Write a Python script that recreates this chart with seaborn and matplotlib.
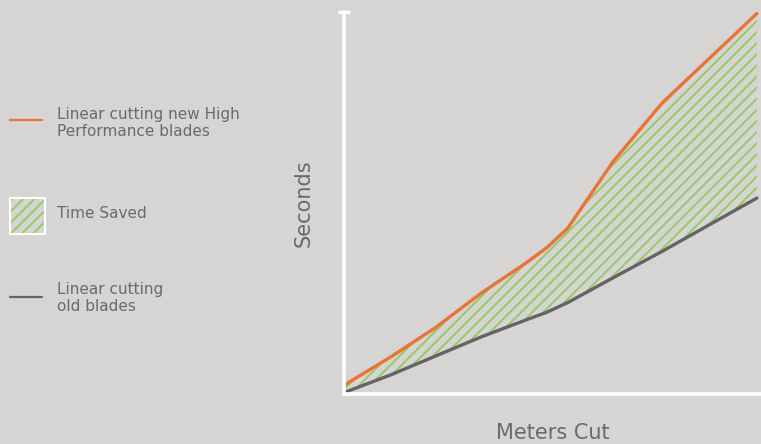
import pandas as pd
import seaborn as sns
import matplotlib.pyplot as plt
from matplotlib.lines import Line2D
from matplotlib.patches import Rectangle

# values (axis units 0-100, no ticks in the original)
meters = [0, 11, 22, 33, 44, 49, 54, 65, 77, 100]
new_blades = [2.5, 9.7, 17.5, 26.5, 34.5, 38.5, 43.5, 61.0, 76.5, 100.0]
old_blades = [0.5, 5.0, 10.0, 15.0, 19.5, 21.5, 24.0, 30.5, 37.5, 51.5]

label_new = "Linear cutting new High\nPerformance blades"
label_saved = "Time Saved"
label_old = "Linear cutting\nold blades"

df = pd.DataFrame({"Meters": meters, "New": new_blades, "Old": old_blades})

bg = "#d6d5d3"
orange = "#ea7338"
grey_line = "#666368"
green = "#92cc62"
txt = "#6c6969"

sns.set_theme(style="white", rc={"axes.facecolor": bg, "figure.facecolor": bg})
plt.rcParams["font.family"] = ["DejaVu Sans"]
plt.rcParams["hatch.linewidth"] = 1.4

fig = plt.figure(figsize=(7.61, 4.44), dpi=100)
ax = fig.add_axes([344 / 761, 50 / 444, 417 / 761, 382 / 444])

# Time Saved area
ax.fill_between(df["Meters"], df["Old"], df["New"], facecolor="none",
                edgecolor=green, hatch="///", linewidth=0)
sns.lineplot(data=df, x="Meters", y="Old", ax=ax, color=grey_line, linewidth=2.4)
sns.lineplot(data=df, x="Meters", y="New", ax=ax, color=orange, linewidth=2.4)

ax.set_xlim(-0.3, 101)
ax.set_ylim(0, 100.4)
ax.set_xticks([])
ax.set_yticks([])
for s in ["top", "right"]:
    ax.spines[s].set_visible(False)
for s in ["left", "bottom"]:
    ax.spines[s].set_color("white")
    ax.spines[s].set_linewidth(2.6)
ax.plot([0], [1], marker="_", markersize=8, mew=2.5, color="white",
        transform=ax.transAxes, clip_on=False)

ax.set_xlabel("Meters Cut", fontsize=15, color=txt, labelpad=21)
ax.set_ylabel("Seconds", fontsize=15, color=txt, labelpad=22)

# manual legend on the left
def fx(px):
    return px / 761

def fy(py):
    return 1 - py / 444

fig.add_artist(Line2D([fx(10), fx(42)], [fy(120), fy(120)], color=orange, lw=1.6))
fig.add_artist(Rectangle((fx(10), fy(234)), 35 / 761, 36 / 444, facecolor=bg,
                         edgecolor=green, hatch="///", linewidth=0))
fig.add_artist(Rectangle((fx(10), fy(234)), 35 / 761, 36 / 444, facecolor="none",
                         edgecolor="white", linewidth=1.5))
fig.add_artist(Line2D([fx(10), fx(42)], [fy(297), fy(297)], color=grey_line, lw=1.6))

fig.text(fx(57), fy(123), label_new, fontsize=11, color=txt, va="center",
         linespacing=1.1)
fig.text(fx(57), fy(213), label_saved, fontsize=11, color=txt, va="center")
fig.text(fx(57), fy(298), label_old, fontsize=11, color=txt, va="center",
         linespacing=1.1)

plt.savefig("out.png", dpi=100, facecolor=bg)
plt.close()
